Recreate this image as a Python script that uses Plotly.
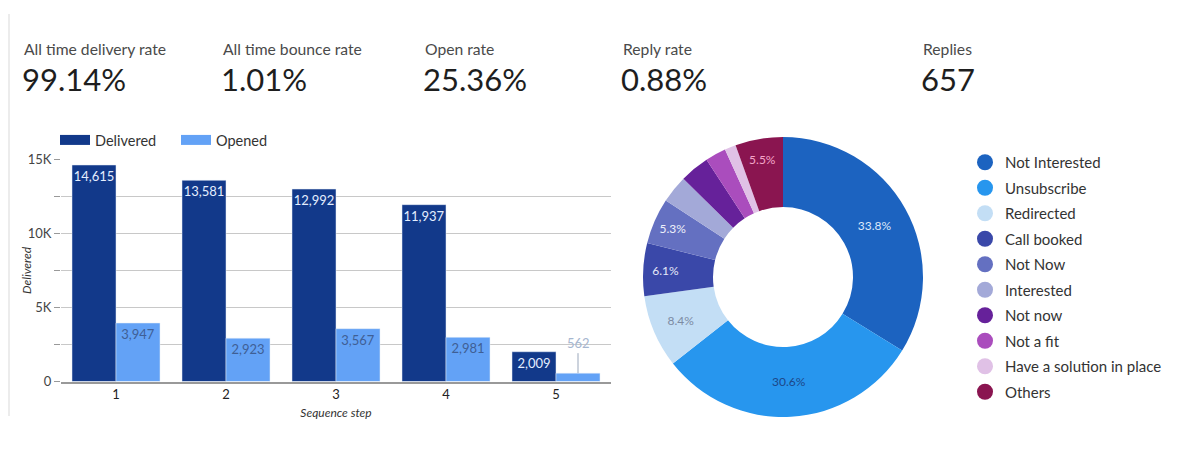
import plotly.graph_objects as go

# ---- data ----
kpi_labels = ["All time delivery rate", "All time bounce rate", "Open rate", "Reply rate", "Replies"]
kpi_values = ["99.14%", "1.01%", "25.36%", "0.88%", "657"]

steps = ["1", "2", "3", "4", "5"]
delivered = [14615, 13581, 12992, 11937, 2009]
opened = [3947, 2923, 3567, 2981, 562]

reply_categories = ["Not Interested", "Unsubscribe", "Redirected", "Call booked", "Not Now",
                    "Interested", "Not now", "Not a fit", "Have a solution in place", "Others"]
reply_share = [33.8, 30.6, 8.4, 6.1, 5.3, 3.2, 3.4, 2.4, 1.3, 5.5]

y_tickvals = [0, 2500, 5000, 7500, 10000, 12500, 15000]
y_ticktext = ["0", "", "5K", "", "10K", "", "15K"]

# ---- styles ----
FONT = "Lato"
DELIV_COLOR = "#12398a"
OPEN_COLOR = "#63a2f6"
pie_colors = ["#1c63c0", "#2796ee", "#c3def5", "#3a48a9", "#6470c1",
              "#a3a9d8", "#66219a", "#aa4dbd", "#e0c1e6", "#8a1550"]
pie_text_colors = ["#dce8fa", "#1d4789", "#7c8ba3", "#e6e9f8", "#eef0fb",
                   "#333", "#fff", "#fff", "#333", "#f4a6c8"]
pie_templates = ["%{percent:.1%}" if v >= 5 else "" for v in reply_share]

# page body has an 8px margin; the figure is sized to fit the 1200x456 window
OFF = 8
W, H = 1200 - 2 * OFF, 456 - 2 * OFF
def px(x):
    return (x - OFF) / W
def py(y):
    return 1 - (y - OFF) / H

fig = go.Figure()

fig.add_trace(go.Bar(
    x=steps, y=delivered, name="Delivered", marker_color=DELIV_COLOR,
    text=[f"{v:,}" for v in delivered], textposition="inside", insidetextanchor="end",
    textangle=0, constraintext="none", showlegend=False,
    textfont=dict(family=FONT, size=13, color="#e4eeff"),
))
opened_text = [f"{v:,}" if v > 1000 else "" for v in opened]
fig.add_trace(go.Bar(
    x=steps, y=opened, name="Opened", marker_color=OPEN_COLOR,
    text=opened_text, textposition="inside", insidetextanchor="end",
    textangle=0, constraintext="none", showlegend=False,
    textfont=dict(family=FONT, size=13, color="#3f5f95"),
))

# legend entries drawn as wide swatches
for name, col in [("Delivered", DELIV_COLOR), ("Opened", OPEN_COLOR)]:
    fig.add_trace(go.Scatter(
        x=[None], y=[None], mode="lines", name=name,
        line=dict(color=col, width=14), legend="legend",
    ))

# small value label with leader line
for i, v in enumerate(opened):
    if v <= 1000:
        fig.add_annotation(
            x=i + 0.2, y=v, xref="x", yref="y", text=f"{v:,}",
            showarrow=True, arrowhead=0, arrowwidth=1, arrowcolor="#9aa7bb",
            ax=0, ay=-20, yanchor="bottom",
            font=dict(family=FONT, size=13, color="#a6b6cf"),
        )

fig.add_trace(go.Pie(
    labels=reply_categories, values=reply_share, sort=False, direction="clockwise",
    hole=0.5, marker=dict(colors=pie_colors, line=dict(width=0)),
    texttemplate=pie_templates, textposition="inside", insidetextorientation="horizontal",
    textfont=dict(family=FONT, size=12, color=pie_text_colors),
    domain=dict(x=[px(643), px(923)], y=[py(417), py(137)]),
    showlegend=False,
))

# circle legend for the donut
for i, (lab, col) in enumerate(zip(reply_categories, pie_colors)):
    fig.add_trace(go.Scatter(
        x=[None], y=[None], mode="markers", name=lab, legendgroup=f"g{i}",
        marker=dict(symbol="circle", size=17, color=col),
        legend="legend2",
    ))

# KPI header
kpi_x = [22, 221, 423, 621, 921]
for xx, lab, val in zip(kpi_x, kpi_labels, kpi_values):
    fig.add_annotation(x=px(xx), y=py(49), xref="paper", yref="paper", text=lab,
                       showarrow=False, xanchor="left", yanchor="middle",
                       font=dict(family=FONT, size=15.7, color="#4a4a4a"))
    fig.add_annotation(x=px(xx - 2), y=py(79), xref="paper", yref="paper", text=val,
                       showarrow=False, xanchor="left", yanchor="middle",
                       font=dict(family=FONT, size=31, color="#1e1e1e"))

# y axis title
fig.add_annotation(x=px(26), y=py(270), xref="paper", yref="paper", text="<i>Delivered</i>",
                   textangle=-90, showarrow=False, xanchor="center", yanchor="middle",
                   font=dict(family=FONT, size=12, color="#333"))

# left frame line
fig.add_shape(type="line", xref="paper", yref="paper", x0=px(9), x1=px(9), y0=py(14), y1=py(416),
              line=dict(color="#ececec", width=2))

fig.update_layout(
    width=W, height=H, margin=dict(l=0, r=0, t=0, b=0, autoexpand=False),
    paper_bgcolor="white", plot_bgcolor="white",
    font=dict(family=FONT, color="#333"),
    barmode="group", bargap=0.2, bargroupgap=0.0,
    xaxis=dict(domain=[px(61), px(611)], type="category", showgrid=False, automargin=False,
               ticks="", tickfont=dict(family=FONT, size=13, color="#222"),
               title=dict(text="<i>Sequence step</i>", font=dict(family=FONT, size=12, color="#333"), standoff=8),
               showline=True, linecolor="#999", linewidth=1.5),
    yaxis=dict(domain=[py(381.5), py(159.3)], range=[0, 15000], tickvals=y_tickvals, ticktext=y_ticktext,
               showgrid=True, gridcolor="#c8c8c8", gridwidth=1, zeroline=False, automargin=False,
               ticks="outside", ticklen=6, tickcolor="#999",
               tickfont=dict(family=FONT, size=13, color="#444")),
    legend=dict(orientation="h", x=px(55), y=py(124), xanchor="left", yanchor="top",
                font=dict(family=FONT, size=14.5, color="#333"), entrywidth=76, entrywidthmode="pixels"),
    legend2=dict(x=px(965), y=py(146), xanchor="left", yanchor="top",
                 font=dict(family=FONT, size=15, color="#333"), tracegroupgap=3),
)

fig.write_html("out.html")
